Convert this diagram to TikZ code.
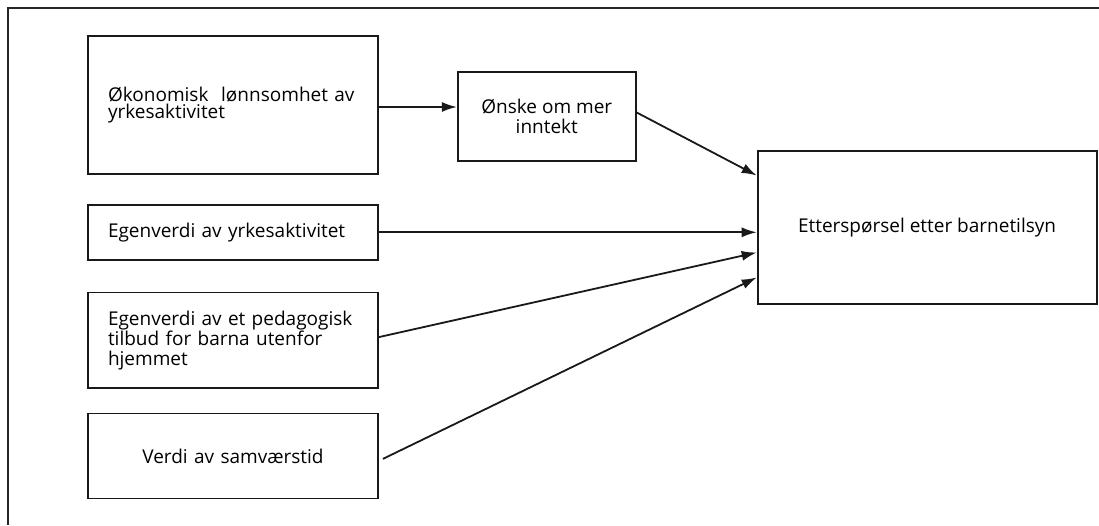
\documentclass[tikz,border=0pt]{standalone}
\usepackage{fontspec}
\setmainfont{Open Sans}
\usetikzlibrary{arrows.meta, positioning}
\tikzstyle{cause} = [rectangle, draw=black!90, line width=1.8pt, minimum width=290pt, text width=250pt, inner xsep=20pt, align=left, font=\fontsize{19}{20}\selectfont]
\tikzstyle{effect} = [rectangle, draw=black!90, line width=1.8pt, align=center, font=\fontsize{19}{20}\selectfont]
\tikzstyle{arrow} = [line width=1.8pt, draw=black!90, -{Latex[length=15pt,width=10pt]}]

\begin{document}
\begin{tikzpicture}[x=1pt, y=1pt]
        \useasboundingbox (0,0) rectangle (1099,525);
        % Frame
        \draw [line width=2pt, black!85] (8,0) |- (1099,517);

        % Nodes
        \node (econ) [cause, minimum height=138pt, text width=262pt, inner xsep=14pt, font=\fontsize{19}{17}\selectfont] at (233,420) {\hspace*{6pt}Økonomisk\ \ lønnsomhet av\\\hspace*{6pt}yrkesaktivitet};
        \node (yrke) [cause, minimum height=55pt, below=29pt of econ] {Egenverdi av yrkesaktivitet};
        \node (ped) [cause, minimum height=95pt, below=31pt of yrke] {Egenverdi av et pedagogisk\\tilbud for barna utenfor\\hjemmet};
        \node (samv) [cause, minimum height=85pt, below=24pt of ped, align=center] {Verdi av samværstid};
        \node (onske) [effect, minimum width=178pt, minimum height=89pt, right=78pt of econ, yshift=-11.5pt] {Ønske om mer\\inntekt};
        \node (target) [effect, minimum width=339pt, minimum height=153pt, right=120pt of onske, yshift=-111pt] {Etterspørsel etter barnetilsyn};

        % Arrows
        \draw [arrow] ([yshift=-2pt]econ.east) -- ([yshift=-2pt]econ.east -| onske.west);
        \draw [arrow] ([yshift=4pt]onske.east) -- ([yshift=52pt]target.west);
        \draw [arrow] (yrke.east) -- (yrke.east -| target.west);
        \draw [arrow] ([yshift=3pt]ped.east) -- ([yshift=-25pt]target.west);
        \draw [arrow] ([xshift=4pt, yshift=-3pt]samv.east) -- ([yshift=-50pt]target.west);
    \end{tikzpicture}
\end{document}
